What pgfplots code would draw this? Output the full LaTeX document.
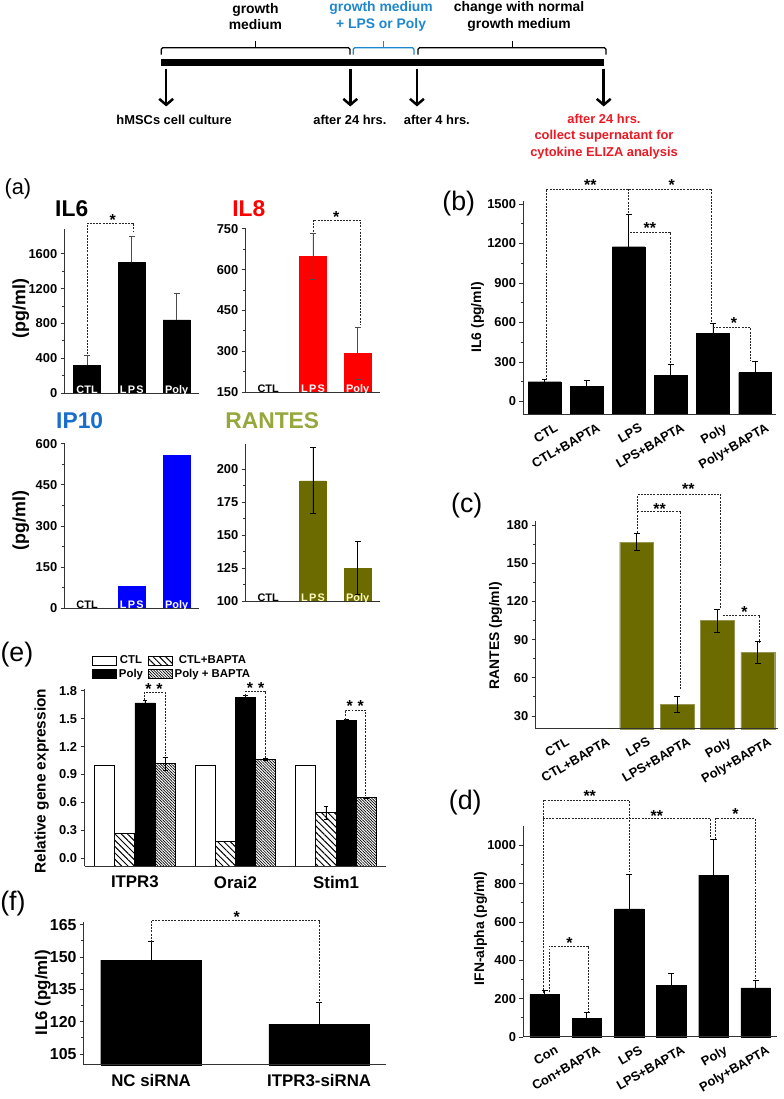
\documentclass[border=0pt]{standalone}
\usepackage{fontspec}
\setmainfont{Liberation Sans}
\usepackage{pgfplots}
\pgfplotsset{compat=1.18}
\usetikzlibrary{arrows.meta,patterns.meta}
\definecolor{olivebar}{RGB}{107,107,0}
\definecolor{oliveedge}{RGB}{150,150,80}
\definecolor{olivetitle}{RGB}{150,168,60}
\definecolor{ipblue}{RGB}{25,110,205}
\definecolor{tlblue}{RGB}{30,135,205}
\definecolor{tlred}{RGB}{235,25,35}
\newcommand{\fs}[1]{\fontsize{#1}{#1}\selectfont}

\tikzset{
  brk/.style={dash pattern=on 2bp off 1.2bp, line width=0.7bp, black!85},
  star/.style={font=\fs{16}\bfseries, inner sep=0pt, yshift=-3bp},
  px/.style={x=1bp, y=-1bp},
}
\pgfplotsset{
  pan/.style={
    set layers=axis on top,
    scale only axis, anchor=south west, clip=false,
    axis x line*=bottom, axis y line*=left,
    axis line style={line width=0.9bp, black!80},
    tick align=outside, major tick length=4bp, minor tick length=2.5bp,
    tick style={black!80, line width=0.8bp},
    xtick style={draw=none},
    yticklabel style={font=\fs{13}\bfseries},
    xticklabel style={font=\fs{13}\bfseries},
    /pgf/number format/assume math mode=true,
    /pgf/number format/1000 sep={},
    enlargelimits=false,
  },
  base/.style={
    ymin=#1,
    y coord trafo/.code={\pgfmathparse{##1-(#1)}},
    y coord inv trafo/.code={\pgfmathparse{##1+(#1)}},
  },
  eb/.style={
    error bars/y dir=both, error bars/y explicit,
    error bars/error bar style={line width=0.8bp, black},
    error bars/error mark options={rotate=90, mark size=3bp, line width=0.8bp, black},
  },
  rot/.style={xticklabel style={rotate=30, anchor=north east, xshift=10bp, yshift=-5bp}},
  inbar/.style={xticklabel style={font=\fs{11}\bfseries, #1, anchor=base, yshift=4bp}},
}

\begin{document}
\begin{tikzpicture}
\begin{scope}[px]
\useasboundingbox (0,0) rectangle (787,1099);

% ---------- timeline ----------
\fill (161.7,59.5) rectangle (607,66);
\foreach \ax in {167,352,419,606.7}
  \draw[line width=2.5bp, -{Straight Barb[length=6bp,width=14bp,line width=2.5bp]}] (\ax,69) -- (\ax,107);
\draw[line width=1.3bp, rounded corners=1.5bp] (162,55) -- (162,48) -- (351.7,48) -- (351.7,55);
\draw[line width=1.3bp] (256.7,48) -- (256.7,41);
\draw[tlblue, line width=1.3bp, rounded corners=1.5bp] (355,55) -- (355,48) -- (416,48) -- (416,55);
\draw[tlblue, line width=1.3bp] (385.7,48) -- (385.7,41);
\draw[line width=1.3bp, rounded corners=1.5bp] (420,55) -- (420,48) -- (609,48) -- (609,55);
\draw[line width=1.3bp] (515,48) -- (515,41);
\begin{scope}[every node/.style={font=\fontsize{14}{16.7}\selectfont\bfseries, align=center}]
\node at (256.7,16.7) {growth\\medium};
\node[tlblue] at (383,16.7) {growth medium\\+ LPS or Poly};
\node at (521.7,16.7) {change with normal\\growth medium};
\end{scope}
\begin{scope}[every node/.style={font=\fontsize{13}{16.7}\selectfont\bfseries, align=center}]
\node at (175,120.7) {hMSCs cell culture};
\node at (351.7,120.7) {after 24 hrs.};
\node at (439,120.7) {after 4 hrs.};
\node[tlred] at (607,137.3) {after 24 hrs.\\collect supernatant for\\cytokine ELIZA  analysis};
\end{scope}

\node[font=\fs{22}] at (18,190) {(a)};
\node[anchor=west, font=\fs{23}\bfseries] at (52,210) {IL6};
\node[anchor=west, font=\fs{23}\bfseries, red] at (230,210) {IL8};
\node[anchor=west, font=\fs{23}\bfseries, ipblue] at (53,423) {IP10};
\node[anchor=west, font=\fs{23}\bfseries, olivetitle] at (223,423) {RANTES};
\node[rotate=90, font=\fs{18}\bfseries] at (21,310) {(pg/ml)};
\node[rotate=90, font=\fs{18}\bfseries] at (21,523) {(pg/ml)};
\node[font=\fs{27}] at (461,205) {(b)};
\node[rotate=90, font=\fs{14}\bfseries] at (480,319) {IL6 (pg/ml)};
\node[font=\fs{27}] at (469,508) {(c)};
\node[rotate=90, font=\fs{14}\bfseries] at (498,639) {RANTES (pg/ml)};
\node[font=\fs{27}] at (467.5,807) {(d)};
\node[rotate=90, font=\fs{14}\bfseries] at (483,933) {IFN-alpha (pg/ml)};
\node[font=\fs{27}] at (17,658) {(e)};
\node[rotate=90, font=\fs{15.5}\bfseries] at (42,785) {Relative gene expression};
\node[font=\fs{27}] at (13,908) {(f)};
\node[rotate=90, font=\fs{17}\bfseries] at (43,997.5) {IL6 (pg/ml)};
\end{scope}

% ---------- (a) IL6 ----------
\begin{axis}[pan, inbar=white, at={(65bp,-395bp)}, width=135bp, height=164.5bp,
  xmin=0.5, xmax=3.5, ymin=0, ymax=1880,
  ytick={0,400,...,1600}, minor y tick num=1,
  xtick={1,2,3}, xticklabels={CTL,{\addfontfeatures{LetterSpace=12}LPS},Poly}]
\addplot[ybar, bar width=27bp, fill=black, draw=black, eb, error bars/y dir=plus,
  error bars/error bar style={black!70}, error bars/error mark options={rotate=90, mark size=3bp, black!70}]
  coordinates {(1,320) +- (0,115) (2,1500) +- (0,300) (3,840) +- (0,310)};
\draw[brk] (1.01,445) |- (2.03,1954) -- (2.03,1851);
\node[star] at (1.57,2023) {*};
\end{axis}

% ---------- (a) IL8 ----------
\begin{axis}[pan, inbar=white, base=150, at={(247bp,-394bp)}, width=135bp, height=164bp,
  xmin=0.5, xmax=3.5, ymax=750,
  ytick={150,300,...,750}, minor y tick num=1,
  xtick={1,2,3}, xticklabels={{\color{black}CTL},{\addfontfeatures{LetterSpace=12}LPS},Poly}]
\addplot[ybar, bar width=27bp, fill=red, draw=red, eb,
  error bars/error bar style={black!70}, error bars/error mark options={rotate=90, mark size=3bp, black!70}]
  coordinates {(2,650) +- (0,85) (3,293) +- (0,95)};
\draw[brk] (2.01,740) |- (3.05,783) -- (3.05,395);
\node[star] at (2.52,805) {*};
\end{axis}

% ---------- (a) IP10 ----------
\begin{axis}[pan, inbar=white, at={(65bp,-611bp)}, width=135bp, height=165bp,
  xmin=0.5, xmax=3.5, ymin=0, ymax=600,
  ytick={0,150,...,600}, minor y tick num=1,
  xtick={1,2,3}, xticklabels={{\color{black}CTL},{\addfontfeatures{LetterSpace=12}LPS},Poly}]
\addplot[ybar, bar width=27bp, fill=blue, draw=blue]
  coordinates {(2,79) (3,557)};
\end{axis}

% ---------- (a) RANTES ----------
\begin{axis}[pan, inbar=yellow!25, base=100, at={(247bp,-604bp)}, width=135bp, height=158bp,
  xmin=0.5, xmax=3.5, ymax=219,
  ytick={100,125,...,200}, minor y tick num=1,
  xtick={1,2,3}, xticklabels={{\color{black}CTL},{\addfontfeatures{LetterSpace=12}LPS},Poly}]
\addplot[ybar, bar width=27bp, fill=olivebar, draw=olivebar, eb]
  coordinates {(2,191) +- (0,25) (3,125) +- (0,20)};
\end{axis}

% ---------- (b) ----------
\begin{axis}[pan, rot, base=-100, at={(526bp,-416.7bp)}, width=254bp, height=214.4bp,
  xmin=0.5, xmax=6.5, ymax=1520,
  ytick={0,300,...,1500}, yticklabels={0,300,600,900,1200,1500}, minor y tick num=1,
  xtick={1,...,6}, xticklabels={CTL,CTL+BAPTA,LPS,LPS+BAPTA,Poly,Poly+BAPTA}]
\addplot[ybar, bar width=33bp, fill=black, draw=black, eb]
  coordinates {(1,150) +- (0,15) (2,115) +- (0,45) (3,1175) +- (0,245)
               (4,200) +- (0,85) (5,520) +- (0,75) (6,220) +- (0,85)};
\draw[brk] (1.04,165) |- (4.97,1614) -- (4.97,600);
\draw[brk] (3.0,1614) -- (3.0,1423);
\draw[brk] (3.03,1287) -- (3.98,1287) -- (3.98,286);
\draw[brk] (5.0,561) -- (5.89,561) -- (5.89,307);
\node[star] at (2.09,1665) {**};
\node[star] at (4.02,1665) {*};
\node[star] at (3.5,1340) {**};
\node[star] at (5.5,615) {*};
\end{axis}

% ---------- (c) ----------
\begin{axis}[pan, rot, base=20, at={(538.3bp,-732.3bp)}, width=243.5bp, height=208.6bp,
  xmin=0.5, xmax=6.5, ymax=183,
  ytick={30,60,...,180}, minor y tick num=1,
  xtick={1,...,6}, xticklabels={CTL,CTL+BAPTA,LPS,LPS+BAPTA,Poly,Poly+BAPTA}]
\addplot[ybar, bar width=34bp, fill=olivebar, draw=oliveedge, eb]
  coordinates {(3,166.5) +- (0,6.5) (4,39) +- (0,6.5) (5,105) +- (0,9) (6,80) +- (0,8.5)};
\draw[brk] (3.02,174) |- (5.08,203.9) -- (5.08,114.1);
\draw[brk] (3.02,191) -- (4.09,191) -- (4.09,50.3);
\draw[brk] (5.13,109.4) -- (6.04,109.4) -- (6.04,88);
\node[star] at (4.28,210.7) {**};
\node[star] at (3.57,195) {**};
\node[star] at (5.67,114) {*};
\end{axis}

% ---------- (d) ----------
\begin{axis}[pan, rot, at={(526bp,-1042bp)}, width=254.7bp, height=211.75bp,
  xmin=0.5, xmax=6.5, ymin=0, ymax=1100,
  ytick={0,200,...,1000}, minor y tick num=1,
  xtick={1,...,6}, xticklabels={Con,Con+BAPTA,LPS,LPS+BAPTA,Poly,Poly+BAPTA}]
\addplot[ybar, bar width=29.7bp, fill=black, draw=black, eb]
  coordinates {(1,222) +- (0,22) (2,97) +- (0,33) (3,668) +- (0,182)
               (4,270) +- (0,64) (5,845) +- (0,187) (6,256) +- (0,40)};
\draw[brk] (0.96,229) |- (3.01,1235) -- (3.01,859);
\draw[brk] (0.96,1141) -- (4.93,1141) -- (4.93,1034);
\draw[brk] (5.05,1034) |- (5.99,1141) -- (5.99,301);
\draw[brk] (1.11,235) |- (2.03,474) -- (2.03,130);
\node[star] at (2.07,1271) {**};
\node[star] at (3.66,1170) {**};
\node[star] at (5.52,1179) {*};
\node[star] at (1.59,504) {*};
\end{axis}

% ---------- (e) ----------
\begin{axis}[pan, base=-0.09, at={(85bp,-870.7bp)}, width=303.3bp, height=178.3bp,
  ybar=0pt, bar width=20.3bp,
  xmin=0.5, xmax=3.5, ymax=1.82,
  ytick={0,0.3,0.6,0.9,1.2,1.5,1.8}, yticklabels={0.0,0.3,0.6,0.9,1.2,1.5,1.8},
  xtick={1,2,3}, xticklabels={ITPR3,Orai2,Stim1},
  xticklabel style={font=\fs{17}\bfseries, yshift=-2bp},
  legend columns=2,
  legend style={draw=none, fill=none, at={(0.015,1.21)}, anchor=north west,
    font=\fs{11.5}\bfseries, row sep=-0.5bp,
    /tikz/every even column/.append style={column sep=3bp}},
  legend image code/.code={\draw[#1,/tikz/.cd,draw=black,line width=0.8bp] (0bp,-4.3bp) rectangle (24bp,4.3bp);}]
\addplot[fill=white, draw=black, line width=0.8bp]
  coordinates {(1,1) (2,1) (3,1)};
\addplot[draw=black, line width=0.8bp, pattern={Lines[angle=-45,distance=4.5bp,line width=1bp]}, eb, error bars/error mark options={rotate=90, mark size=2.5bp, black}]
  coordinates {(1,0.27) +- (0,0) (2,0.18) +- (0,0) (3,0.49) +- (0,0.07)};
\addplot[fill=black, draw=black, eb, error bars/error mark options={rotate=90, mark size=2.5bp, black}]
  coordinates {(1,1.67) +- (0,0.03) (2,1.73) +- (0,0.02) (3,1.48) +- (0,0.01)};
\addplot[draw=black, line width=0.8bp, pattern={Lines[angle=-45,distance=2bp,line width=0.7bp]}, eb, error bars/error mark options={rotate=90, mark size=2.5bp, black}]
  coordinates {(1,1.02) +- (0,0.07) (2,1.06) +- (0,0.01) (3,0.65) +- (0,0.01)};
\legend{CTL,CTL+BAPTA,Poly,Poly + BAPTA}
\draw[brk] (1.093,1.70) |- (1.298,1.789) -- (1.298,1.10);
\draw[brk] (2.1,1.75) |- (2.297,1.797) -- (2.297,1.075);
\draw[brk] (3.09,1.49) |- (3.29,1.593) -- (3.29,0.664);
\node[star] at (1.19,1.854) {*\hspace{5bp}*};
\node[star] at (2.2,1.86) {*\hspace{5bp}*};
\node[star] at (3.19,1.67) {*\hspace{5bp}*};
\end{axis}

% ---------- (f) ----------
\begin{axis}[pan, base=100, at={(84.3bp,-1070bp)}, width=304bp, height=143bp,
  xmin=0.6, xmax=2.4, ymax=166,
  ytick={105,120,...,165}, minor y tick num=1,
  yticklabel style={font=\fs{16}\bfseries},
  xtick={1,2}, xticklabels={NC siRNA,ITPR3-siRNA},
  xticklabel style={font=\fs{17}\bfseries, yshift=-2bp}]
\addplot[ybar, bar width=101.3bp, fill=black, draw=black, eb]
  coordinates {(1,148.5) +- (0,8.5) (2,118.8) +- (0,10.1)};
\draw[brk] (1.0,157) |- (2.0,166.9) -- (2.0,129);
\node[star] at (1.51,170) {*};
\end{axis}

\end{tikzpicture}
\end{document}
